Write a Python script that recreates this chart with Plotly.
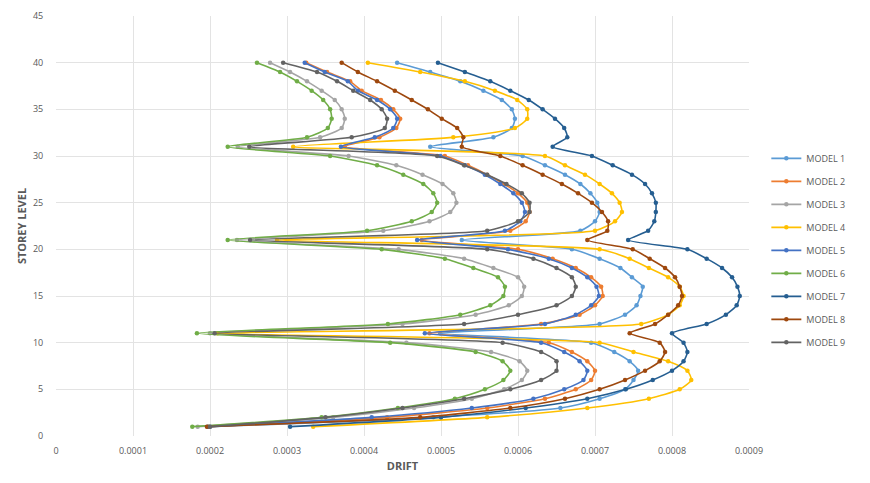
import plotly.graph_objects as go

storeys = list(range(1, 41))

# drift values in units of 1e-4, storey 1..40
model_1 = [2.00, 4.90, 6.55, 7.06, 7.39, 7.50, 7.56, 7.45, 7.25, 6.95,
           4.99, 7.06, 7.39, 7.54, 7.59, 7.62, 7.48, 7.33, 7.06, 6.70,
           5.27, 6.81, 7.00, 7.06, 7.03, 6.94, 6.81, 6.61, 6.35, 6.06,
           4.86, 5.68, 5.92, 5.96, 5.92, 5.79, 5.55, 5.25, 4.86, 4.43]
model_2 = [1.98, 4.30, 5.60, 6.35, 6.75, 6.95, 7.00, 6.90, 6.70, 6.40,
           4.85, 6.30, 6.80, 7.00, 7.10, 7.08, 6.95, 6.75, 6.45, 6.00,
           4.75, 5.90, 6.10, 6.15, 6.12, 6.00, 5.82, 5.60, 5.35, 5.05,
           3.75, 4.20, 4.42, 4.47, 4.38, 4.22, 3.97, 3.82, 3.52, 3.25]
model_3 = [1.84, 3.60, 4.65, 5.40, 5.82, 6.05, 6.12, 6.02, 5.65, 4.55,
           2.00, 4.50, 5.45, 5.88, 6.05, 6.08, 6.00, 5.68, 5.30, 4.45,
           2.35, 4.25, 4.85, 5.12, 5.20, 5.16, 5.02, 4.76, 4.42, 3.80,
           2.36, 3.43, 3.71, 3.75, 3.71, 3.62, 3.45, 3.26, 3.04, 2.78]
model_4 = [3.34, 5.60, 6.90, 7.70, 8.10, 8.25, 8.20, 7.95, 7.50, 7.06,
           2.10, 7.60, 7.95, 8.10, 8.15, 8.10, 7.95, 7.70, 7.45, 7.06,
           2.87, 7.00, 7.26, 7.35, 7.32, 7.22, 7.06, 6.87, 6.61, 6.35,
           3.08, 5.16, 5.96, 6.12, 6.12, 5.99, 5.70, 5.31, 4.73, 4.05]
model_5 = [1.97, 4.10, 5.40, 6.20, 6.60, 6.85, 6.90, 6.80, 6.60, 6.30,
           4.79, 6.35, 6.75, 6.95, 7.05, 7.02, 6.90, 6.70, 6.40, 5.87,
           4.69, 5.83, 6.03, 6.09, 6.05, 5.94, 5.77, 5.57, 5.31, 4.99,
           3.70, 4.14, 4.38, 4.43, 4.34, 4.17, 3.92, 3.79, 3.49, 3.23]
model_6 = [1.77, 3.45, 4.44, 5.18, 5.57, 5.81, 5.90, 5.80, 5.45, 4.34,
           1.83, 4.31, 5.25, 5.64, 5.81, 5.83, 5.74, 5.42, 5.05, 4.23,
           2.23, 4.04, 4.62, 4.88, 4.95, 4.90, 4.77, 4.51, 4.17, 3.56,
           2.23, 3.26, 3.53, 3.58, 3.56, 3.47, 3.32, 3.13, 2.91, 2.61]
model_7 = [3.04, 5.00, 6.10, 6.90, 7.40, 7.75, 8.00, 8.15, 8.20, 8.15,
           8.00, 8.45, 8.70, 8.84, 8.88, 8.85, 8.78, 8.65, 8.45, 8.20,
           7.43, 7.69, 7.77, 7.79, 7.79, 7.74, 7.65, 7.48, 7.23, 6.96,
           6.45, 6.64, 6.60, 6.48, 6.32, 6.14, 5.90, 5.64, 5.31, 4.96]
model_8 = [1.96, 4.73, 5.90, 6.61, 7.06, 7.39, 7.65, 7.84, 7.91, 7.84,
           7.45, 7.78, 7.95, 8.08, 8.13, 8.10, 8.04, 7.91, 7.71, 7.49,
           6.90, 7.16, 7.17, 7.09, 6.96, 6.78, 6.57, 6.32, 6.06, 5.77,
           5.27, 5.29, 5.21, 5.01, 4.83, 4.62, 4.40, 4.17, 3.92, 3.71]
model_9 = [2.00, 3.50, 4.50, 5.30, 5.90, 6.30, 6.50, 6.50, 6.30, 5.80,
           2.06, 5.30, 6.00, 6.50, 6.70, 6.75, 6.70, 6.50, 6.20, 5.60,
           2.52, 5.60, 6.00, 6.15, 6.15, 6.05, 5.85, 5.60, 5.30, 4.95,
           2.51, 3.84, 4.27, 4.30, 4.23, 4.08, 3.86, 3.65, 3.39, 2.95]

names = ["MODEL 1", "MODEL 2", "MODEL 3", "MODEL 4", "MODEL 5",
         "MODEL 6", "MODEL 7", "MODEL 8", "MODEL 9"]
series = [model_1, model_2, model_3, model_4, model_5,
          model_6, model_7, model_8, model_9]
colors = ["#5B9BD5", "#ED7D31", "#A5A5A5", "#FFC000", "#4472C4",
          "#70AD47", "#255E91", "#9E480E", "#636363"]

x_tickvals = [0, 0.0001, 0.0002, 0.0003, 0.0004, 0.0005, 0.0006, 0.0007, 0.0008, 0.0009]
x_ticktext = ["0", "0.0001", "0.0002", "0.0003", "0.0004", "0.0005", "0.0006", "0.0007", "0.0008", "0.0009"]
y_tickvals = [0, 5, 10, 15, 20, 25, 30, 35, 40, 45]

fig = go.Figure()
for i, (name, vals, col) in enumerate(zip(names, series, colors)):
    fig.add_trace(go.Scatter(
        x=[v * 1e-4 for v in vals], y=storeys, name=name,
        mode="lines+markers",
        line=dict(color=col, width=1.6, shape="spline", smoothing=0.6),
        marker=dict(color=col, size=4.5),
        legendgroup=name,
    ))

fig.update_layout(
    width=870, height=483,
    margin=dict(l=48, r=129, t=8, b=55, autoexpand=False),
    paper_bgcolor="white", plot_bgcolor="white",
    font=dict(family="Open Sans, Arial, sans-serif", color="#595959", size=9),
    legend=dict(x=1.025, y=0.442, yanchor="middle", xanchor="left",
                font=dict(size=9, color="#595959"), tracegroupgap=4,
                itemwidth=30),
    xaxis=dict(range=[0, 0.0009], tickvals=x_tickvals, ticktext=x_ticktext,
               showgrid=True, gridcolor="#E3E3E3", zeroline=False,
               showline=False, ticks="outside", ticklen=6, tickcolor="rgba(0,0,0,0)",
               automargin=False, ticklabeloverflow="allow",
               title=dict(text="<b>DRIFT</b>", font=dict(size=11, color="#595959"), standoff=6)),
    yaxis=dict(range=[0, 45], tickvals=y_tickvals,
               showgrid=True, gridcolor="#E3E3E3", zeroline=False,
               showline=False, ticks="outside", ticklen=10, tickcolor="rgba(0,0,0,0)",
               automargin=False, ticklabeloverflow="allow",
               title=dict(text="<b>STOREY LEVEL</b>", font=dict(size=11, color="#595959"), standoff=4)),
    showlegend=True,
)
fig.write_html("out.html")
